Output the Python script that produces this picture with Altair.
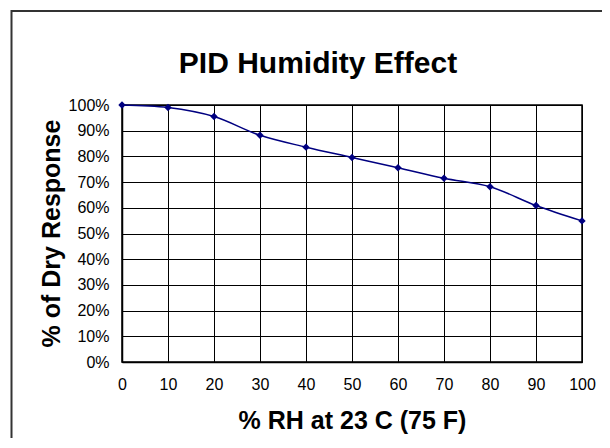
import altair as alt
import pandas as pd

rh = [0, 10, 20, 30, 40, 50, 60, 70, 80, 90, 100]
response = [100, 99, 95.5, 88.2, 83.6, 79.6, 75.6, 71.5, 68.2, 60.9, 54.9]
x_ticks = [0, 10, 20, 30, 40, 50, 60, 70, 80, 90, 100]
y_ticks = [0, 10, 20, 30, 40, 50, 60, 70, 80, 90, 100]

df = pd.DataFrame({"rh": rh, "resp": response})
FONT = "Liberation Sans"

x = alt.X(
    "rh:Q",
    scale=alt.Scale(domain=[0, 100], nice=False),
    axis=alt.Axis(
        values=x_ticks, title="% RH at 23 C (75 F)", grid=True, gridColor="black",
        gridWidth=1, gridOpacity=1, ticks=False, labelPadding=14, labelFontSize=16,
        labelFont=FONT, labelColor="black", domainColor="black", domainWidth=1.5,
        titleFont=FONT, titleFontSize=25, titleFontWeight="bold", titleColor="black",
        titleBaseline="alphabetic", titleY=66, titleX=230, titleAlign="center",
        labelFlush=False, labelOverlap=False,
    ),
)
y = alt.Y(
    "resp:Q",
    scale=alt.Scale(domain=[0, 100], nice=False),
    axis=alt.Axis(
        values=y_ticks, title="% of Dry Response", grid=True, gridColor="black",
        gridWidth=1, gridOpacity=1, ticks=False, labelPadding=13, labelFontSize=16,
        labelFont=FONT, labelColor="black", domainColor="black", domainWidth=1.5,
        labelExpr="datum.value + '%'",
        titleFont=FONT, titleFontSize=25, titleFontWeight="bold", titleColor="black",
        titleBaseline="alphabetic", titleAngle=-90, titleX=-63, titleY=128,
        titleAlign="center", labelFlush=False, labelOverlap=False,
    ),
)

line = alt.Chart(df).mark_line(
    color="#000080", strokeWidth=1.5, interpolate="catmull-rom"
).encode(x=x, y=y)

pts = alt.Chart(df).mark_point(
    shape="diamond", filled=True, color="#000080", size=55, opacity=1
).encode(x=x, y=y)

border = alt.Chart(alt.Data(values=[{}])).mark_rect(
    filled=False, stroke="#333333", strokeWidth=2
).encode(
    x=alt.value(-110.5), x2=alt.value(700), y=alt.value(-94), y2=alt.value(700)
)

chart = alt.layer(border, line, pts).properties(
    width=460,
    height=257,
    padding={"left": 114, "top": 97, "right": 20, "bottom": 76},
    autosize=alt.AutoSizeParams(type="none"),
    title=alt.TitleParams(
        "PID Humidity Effect", font=FONT, fontSize=30, fontWeight="bold",
        color="black", anchor="middle", frame="group", dx=-34, offset=0, dy=69,
    ),
    background="white",
).configure_view(stroke="black", strokeWidth=1.5)

chart.save("out.html", embed_options={"renderer": "svg", "actions": False})
